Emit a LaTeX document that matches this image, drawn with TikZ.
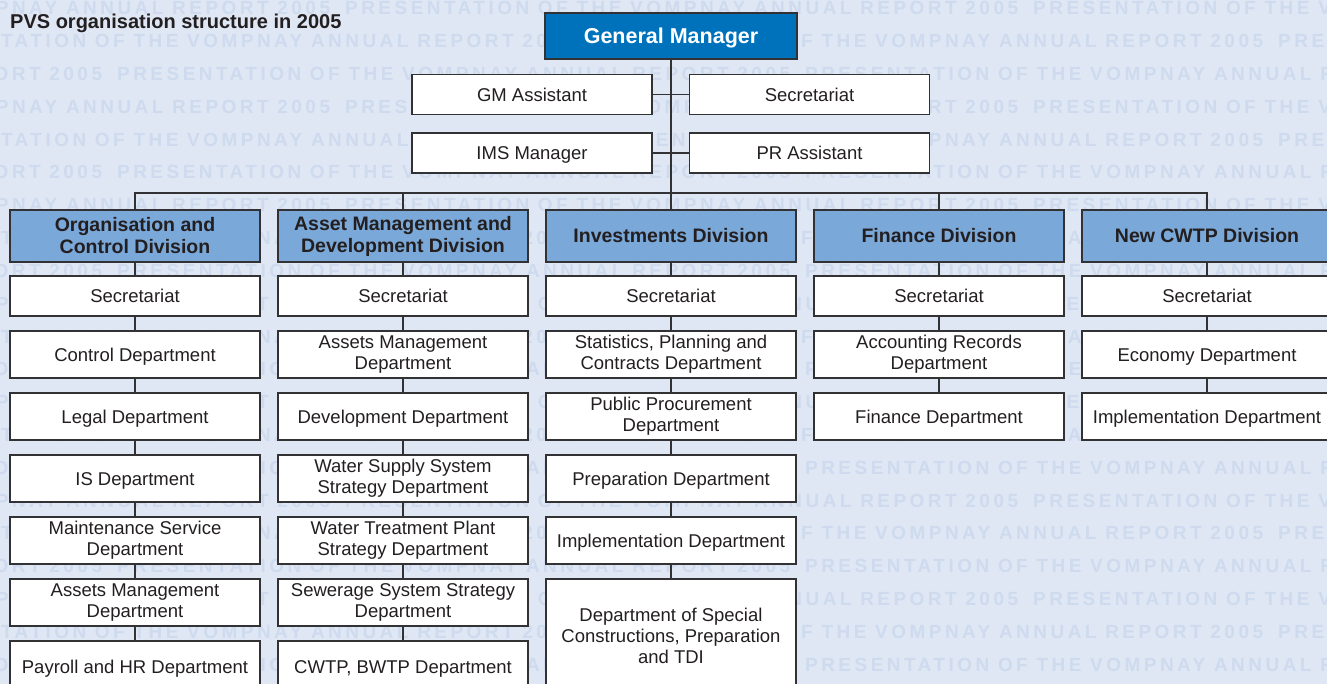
\documentclass[tikz,border=0pt]{standalone}
\usepackage{fontspec}
\setmainfont{Liberation Sans}
\newfontfamily\wmfont[LetterSpace=18.2]{Liberation Sans}
\definecolor{bgc}{RGB}{223,231,244}
\definecolor{wmc}{RGB}{206,218,238}
\definecolor{gmc}{RGB}{0,114,188}
\definecolor{divc}{RGB}{122,168,216}
\definecolor{linec}{RGB}{50,50,52}
\definecolor{txt}{RGB}{35,31,32}
\tikzset{
  box/.style={draw=linec, line width=1.3pt, inner sep=0pt, align=center, text=txt,
    font=\fontsize{18.5}{21}\selectfont},
  sub/.style={box, fill=white, minimum width=250pt},
  one/.style={text height=13.3pt, text depth=0pt},
  small/.style={box, one, fill=white, minimum width=240pt, minimum height=40pt},
  div/.style={box, fill=divc, minimum width=250pt, minimum height=52pt,
    font=\bfseries\fontsize{19.5}{22}\selectfont},
  onediv/.style={text height=14pt, text depth=0pt},
  gmbox/.style={box, fill=gmc, text=white, minimum width=252pt, minimum height=46pt,
    text height=15.4pt, text depth=0pt,
    font=\bfseries\fontsize{21.5}{24}\selectfont},
  conn/.style={draw=linec, line width=1.2pt},
  wm/.style={anchor=base west, inner sep=0pt, text=wmc,
    font=\wmfont\bfseries\fontsize{19}{19}\selectfont}
}
\begin{document}
\begin{tikzpicture}[x=1pt,y=-1pt]
\clip (0,0) rectangle (1327,684);
\fill[bgc] (0,0) rectangle (1327,684);
% watermark
\foreach \j in {0,...,20}{
  \pgfmathtruncatemacro{\t}{mod(\j,3)}
  \pgfmathsetmacro{\off}{\t==0 ? 345 : (\t==1 ? 590 : 117)}
  \pgfmathsetmacro{\yy}{15+32.8*\j}
  \foreach \k in {0,1,2}{
    \node[wm] (wm-\j-\k) at ({\off-688+688*\k},\yy) {PRESENTATION OF THE VOMPNAY ANNUAL REPORT 2005};
  }
}
% title
\node[anchor=base west, inner sep=0pt, text=txt, font=\bfseries\fontsize{20}{24}\selectfont] (title) at (10,29) {PVS organisation structure in 2005};
% top
\node[gmbox] (gm) at (671,36) {General Manager};
\node[small] (gma) at (532,94.5) {GM Assistant};
\node[small] (sec) at (809.5,94.5) {Secretariat};
\node[small] (ims) at (532,153) {IMS Manager};
\node[small] (pr) at (809.5,153) {PR Assistant};
% divisions
\node[div] (div1) at (135,236) {Organisation and\\Control Division};
\node[div] (div2) at (403,236) {Asset Management and\\Development Division};
\node[div, onediv] (div3) at (671,236) {Investments Division};
\node[div, onediv] (div4) at (939,236) {Finance Division};
\node[div, onediv] (div5) at (1207,236) {New CWTP Division};
% column 1
\node[sub, one, minimum height=40pt] (c1r1) at (135,296) {Secretariat};
\node[sub, one, minimum height=47pt] (c1r2) at (135,354.5) {Control Department};
\node[sub, one, minimum height=47pt] (c1r3) at (135,416.5) {Legal Department};
\node[sub, one, minimum height=47pt] (c1r4) at (135,478.5) {IS Department};
\node[sub, minimum height=47pt] (c1r5) at (135,540.5) {Maintenance Service\\Department};
\node[sub, minimum height=47pt] (c1r6) at (135,602.5) {Assets Management\\Department};
\node[sub, one, minimum height=52pt] (c1r7) at (135,667) {Payroll and HR Department};
% column 2
\node[sub, one, minimum height=40pt] (c2r1) at (403,296) {Secretariat};
\node[sub, minimum height=47pt] (c2r2) at (403,354.5) {Assets Management\\Department};
\node[sub, one, minimum height=47pt] (c2r3) at (403,416.5) {Development Department};
\node[sub, minimum height=47pt] (c2r4) at (403,478.5) {Water Supply System\\Strategy Department};
\node[sub, minimum height=47pt] (c2r5) at (403,540.5) {Water Treatment Plant\\Strategy Department};
\node[sub, minimum height=47pt] (c2r6) at (403,602.5) {Sewerage System Strategy\\Department};
\node[sub, one, minimum height=52pt] (c2r7) at (403,667) {CWTP, BWTP Department};
% column 3
\node[sub, one, minimum height=40pt] (c3r1) at (671,296) {Secretariat};
\node[sub, minimum height=47pt] (c3r2) at (671,354.5) {Statistics, Planning and\\Contracts Department};
\node[sub, minimum height=47pt] (c3r3) at (671,416.5) {Public Procurement\\Department};
\node[sub, one, minimum height=47pt] (c3r4) at (671,478.5) {Preparation Department};
\node[sub, one, minimum height=47pt] (c3r5) at (671,540.5) {Implementation Department};
\node[sub, minimum height=114pt] (c3r6) at (671,636) {Department of Special\\Constructions, Preparation\\and TDI};
% column 4
\node[sub, one, minimum height=40pt] (c4r1) at (939,296) {Secretariat};
\node[sub, minimum height=47pt] (c4r2) at (939,354.5) {Accounting Records\\Department};
\node[sub, one, minimum height=47pt] (c4r3) at (939,416.5) {Finance Department};
% column 5
\node[sub, one, minimum height=40pt] (c5r1) at (1207,296) {Secretariat};
\node[sub, one, minimum height=47pt] (c5r2) at (1207,354.5) {Economy Department};
\node[sub, one, minimum height=47pt] (c5r3) at (1207,416.5) {Implementation Department};
% connectors
\draw[conn] (gm.south) -- (div3.north);
\draw[conn] (gma.east) -- (sec.west);
\draw[conn] (ims.east) -- (pr.west);
\coordinate (busL) at (135,193);
\coordinate (busR) at (1207,193);
\draw[conn] (div1.north) -- (busL) -- (busR) -- (div5.north);
\draw[conn] (div2.north) -- (div2.north |- busL);
\draw[conn] (div4.north) -- (div4.north |- busL);
\foreach \cc/\nn in {1/7,2/7,3/6,4/3,5/3}{
  \draw[conn] (div\cc.south) -- (c\cc r1.north);
  \foreach \rr [evaluate=\rr as \pp using int(\rr-1)] in {2,...,\nn}{
    \draw[conn] (c\cc r\pp.south) -- (c\cc r\rr.north);
  }
}
\end{tikzpicture}
\end{document}
